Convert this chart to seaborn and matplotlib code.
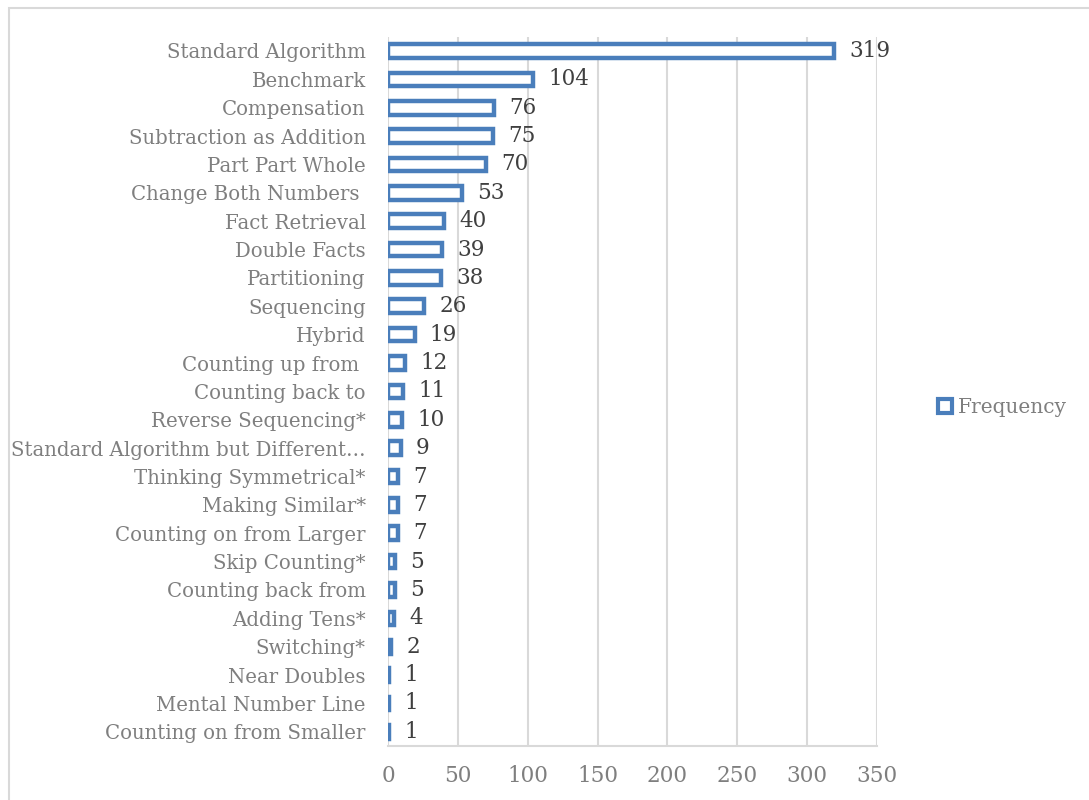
import matplotlib
matplotlib.use("Agg")
import matplotlib.pyplot as plt
from matplotlib.patches import Patch, Rectangle
import seaborn as sns
import pandas as pd

strategies = [
    "Standard Algorithm", "Benchmark", "Compensation", "Subtraction as Addition",
    "Part Part Whole", "Change Both Numbers ", "Fact Retrieval", "Double Facts",
    "Partitioning", "Sequencing", "Hybrid", "Counting up from ", "Counting back to",
    "Reverse Sequencing*", "Standard Algorithm but Different\u2026",
    "Thinking Symmetrical*", "Making Similar*", "Counting on from Larger",
    "Skip Counting*", "Counting back from", "Adding Tens*", "Switching*",
    "Near Doubles", "Mental Number Line", "Counting on from Smaller",
]
frequency = [319, 104, 76, 75, 70, 53, 40, 39, 38, 26, 19, 12, 11, 10, 9,
             7, 7, 7, 5, 5, 4, 2, 1, 1, 1]
x_ticks = [0, 50, 100, 150, 200, 250, 300, 350]

df = pd.DataFrame({"Strategy": strategies, "Frequency": frequency})

BLUE = "#4a7ebb"
GRID = "#d9d9d9"
TICK_GRAY = "#7f7f7f"
VALUE_GRAY = "#404040"

sns.set_theme(style="white")
plt.rcParams["font.family"] = ["DejaVu Serif"]

fig = plt.figure(figsize=(10.89, 8.0), dpi=100)
ax = fig.add_axes([0.3563, 0.0675, 0.8053 - 0.3563, 0.954 - 0.0675])

sns.barplot(data=df, x="Frequency", y="Strategy", order=strategies,
            color="white", edgecolor=BLUE, linewidth=3.2, width=0.48,
            saturation=1, ax=ax)

for i, v in enumerate(frequency):
    ax.annotate(str(v), xy=(v, i), xytext=(11, 0), textcoords="offset points",
                va="center", ha="left", fontsize=15.5, color=VALUE_GRAY)

ax.set_xlim(0, 350)
ax.set_ylim(len(strategies) - 0.5, -0.5)
ax.set_xticks(x_ticks)
ax.set_xlabel("")
ax.set_ylabel("")
ax.xaxis.grid(True, color=GRID, linewidth=1.5)
ax.set_axisbelow(True)
for side in ["top", "right", "left"]:
    ax.spines[side].set_visible(False)
ax.spines["bottom"].set_color(GRID)
ax.spines["bottom"].set_linewidth(1.5)
ax.tick_params(axis="x", labelcolor=TICK_GRAY, color=GRID, labelsize=15.5,
               length=5, width=1.5, direction="out", pad=9)
ax.tick_params(axis="y", labelcolor=TICK_GRAY, labelsize=14.2, length=0, pad=16)

handle = Patch(facecolor="white", edgecolor=BLUE, linewidth=3.0, label="Frequency")
fig.legend(handles=[handle], loc="center left", bbox_to_anchor=(0.845, 0.491),
           frameon=False, fontsize=14.5, handlelength=0.7, handleheight=0.7,
           handletextpad=0.25, labelcolor=TICK_GRAY)

fig.patches.append(Rectangle((9 / 1089, -0.1), 1.2, (800 - 8) / 800 + 0.1,
                             transform=fig.transFigure, fill=False,
                             edgecolor=GRID, linewidth=1.5))

fig.savefig("out.png", dpi=100, facecolor="white")
